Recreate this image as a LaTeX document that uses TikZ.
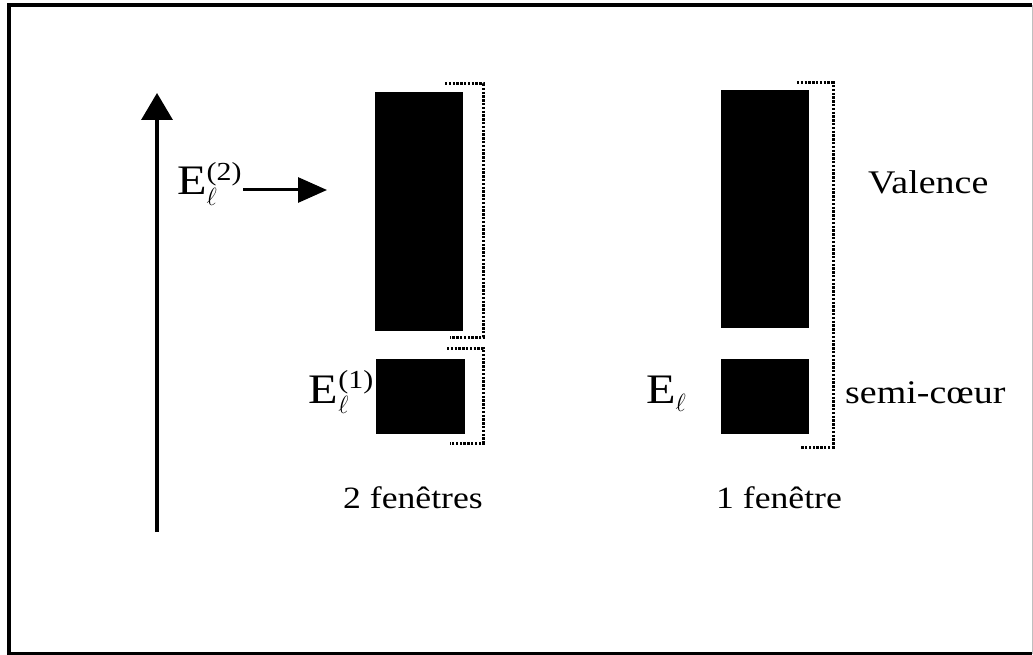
\documentclass[tikz,border=0pt]{standalone}
\usepackage{fontspec}
\setmainfont{Liberation Serif}[FakeStretch=1.15]
\usetikzlibrary{arrows.meta}
\newcommand{\scr}[1]{\hbox{\fontsize{26}{30}\selectfont #1}}
\begin{document}
\begin{tikzpicture}[x=1pt,y=-1pt,
  band/.style={fill=black,draw=none,inner sep=0pt,outer sep=0pt,anchor=north west},
  bracket/.style={line width=3pt,dash pattern=on 2.4pt off 1.4pt,draw=black},
  lab/.style={inner sep=0pt,anchor=base west,font=\fontsize{33}{38}\selectfont},
  flab/.style={inner sep=0pt,anchor=base west,font=\fontsize{31}{36}\selectfont},
  elab/.style={inner sep=0pt,anchor=base west,font=\fontsize{42}{48}\selectfont},
  axis/.style={line width=3.5pt,-{Triangle[width=31pt,length=27pt]}},
  earrow/.style={line width=3pt,-{Triangle[width=25pt,length=29pt]}},
]
\useasboundingbox (0,0) rectangle (1033,655);
% frame
\draw[line width=3.5pt] (1032,5) -- (9,5) -- (9,653.5) -- (1032,653.5);
\draw[line width=1pt,black!25] (1032,5) -- (1032,653.5);
% bands
\node[band,minimum width=88pt,minimum height=239pt] (v2) at (375,92) {};
\node[band,minimum width=89pt,minimum height=75pt] (c2) at (376,359) {};
\node[band,minimum width=88pt,minimum height=238pt] (v1) at (721,90) {};
\node[band,minimum width=88pt,minimum height=75pt] (c1) at (721,359) {};
% brackets
\draw[bracket] (445,84) -- (483,84) -- (483,337) -- (450,337);
\draw[bracket] (447,348) -- (483,348) -- (483,443) -- (450,443);
\draw[bracket] (797,83) -- (833,83) -- (833,447) -- (800,447);
% axis
\coordinate (ax0) at (157,532);
\coordinate (ax1) at (157,93);
\draw[axis] (ax0) -- (ax1);
% labels
\node[elab] (e2) at (177,195) {E$_{\ell}^{\scr{(2)}}$};
\coordinate (e2tip) at (327,190);
\draw[earrow] ([xshift=1pt]e2.east |- e2tip) -- (e2tip);
\node[elab,anchor=base east] (e1) at (374,403) {E$_{\ell}^{\scr{(1)}}$};
\node[elab] (e0) at (646,403) {E$_{\ell}$};
\node[lab] (val) at (868,194) {Valence};
\node[lab] (semi) at (845,403) {semi-cœur};
\node[flab] (f2) at (343,508) {2 fenêtres};
\node[flab] (f1) at (716,508) {1 fenêtre};
\end{tikzpicture}
\end{document}
